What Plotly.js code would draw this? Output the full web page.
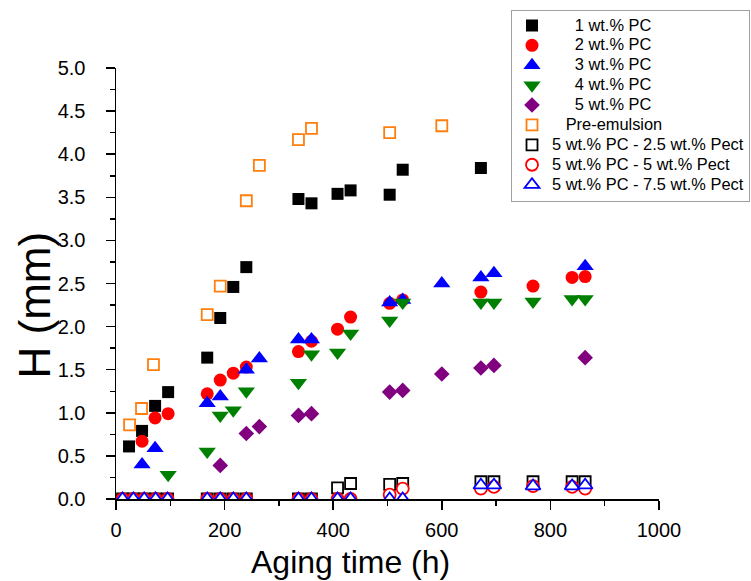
<!DOCTYPE html>
<html>
<head>
<meta charset="utf-8">
<script src="https://cdn.plot.ly/plotly-3.0.1.min.js"></script>
<style>html,body{margin:0;padding:0;background:#fff;}#chart{width:751px;height:581px;}</style>
</head>
<body>
<div id="chart"></div>
<script>
// Aging time (h) and creaming height H (mm) per formulation
const t_pc1 = [24, 48, 72, 96, 168, 192, 216, 240, 336, 360, 408, 432, 504, 528, 672];
const h_pc1 = [0.61, 0.79, 1.08, 1.24, 1.64, 2.10, 2.46, 2.69, 3.48, 3.43, 3.54, 3.58, 3.53, 3.82, 3.84];
const t_pc2 = [48, 72, 96, 168, 192, 216, 240, 336, 360, 408, 432, 504, 528, 672, 768, 840, 864];
const h_pc2 = [0.67, 0.94, 0.99, 1.22, 1.38, 1.46, 1.53, 1.71, 1.83, 1.97, 2.11, 2.27, 2.31, 2.40, 2.47, 2.57, 2.58];
const t_pc3 = [48, 72, 168, 192, 240, 264, 336, 360, 504, 528, 600, 672, 696, 864];
const h_pc3 = [0.40, 0.59, 1.11, 1.19, 1.50, 1.63, 1.85, 1.85, 2.28, 2.31, 2.50, 2.57, 2.62, 2.70];
const t_pc4 = [96, 168, 192, 216, 240, 336, 360, 408, 432, 504, 528, 672, 696, 768, 840, 864];
const h_pc4 = [0.28, 0.55, 0.97, 1.03, 1.25, 1.35, 1.68, 1.70, 1.92, 2.07, 2.28, 2.28, 2.28, 2.29, 2.32, 2.32];
const t_pc5 = [72, 192, 240, 264, 336, 360, 504, 528, 600, 672, 696, 864];
const h_pc5 = [0.00, 0.39, 0.76, 0.84, 0.97, 0.99, 1.24, 1.26, 1.45, 1.52, 1.55, 1.64];
const t_pre = [25, 47, 69, 168, 192, 240, 264, 336, 360, 504, 600];
const h_pre = [0.86, 1.05, 1.56, 2.14, 2.47, 3.46, 3.87, 4.17, 4.30, 4.25, 4.33];
const t_pect = [12, 32, 52, 73, 95, 168, 192, 216, 240, 336, 360, 408, 432, 504, 528, 672, 696, 768, 840, 864];
const h_pect25 = [0, 0, 0, 0, 0, 0, 0, 0, 0, 0, 0, 0.13, 0.18, 0.17, 0.18, 0.20, 0.20, 0.20, 0.20, 0.20];
const h_pect5  = [0, 0, 0, 0, 0, 0, 0, 0, 0, 0, 0, 0, 0, 0.05, 0.12, 0.12, 0.14, 0.15, 0.14, 0.12];
const h_pect75 = [0, 0, 0, 0, 0, 0, 0, 0, 0, 0, 0, 0, 0, 0, 0, 0.16, 0.16, 0.15, 0.15, 0.16];

const labels = [
  "\u00a0\u00a0\u00a0\u00a0\u00a01 wt.% PC",
  "\u00a0\u00a0\u00a0\u00a0\u00a02 wt.% PC",
  "\u00a0\u00a0\u00a0\u00a0\u00a03 wt.% PC",
  "\u00a0\u00a0\u00a0\u00a0\u00a04 wt.% PC",
  "\u00a0\u00a0\u00a0\u00a0\u00a05 wt.% PC",
  "\u00a0\u00a0\u00a0Pre-emulsion",
  "5 wt.% PC - 2.5 wt.% Pect",
  "5 wt.% PC - 5 wt.% Pect",
  "5 wt.% PC - 7.5 wt.% Pect"
];
const names = labels.map(s => '<span style="font-size:16.4px">' + s + '</span>');

function filled(x, y, name, sym, color, size) {
  return {x: x, y: y, name: name, type: 'scatter', mode: 'markers',
    marker: {symbol: sym, color: color, size: size, line: {width: 0}}};
}
function hollow(x, y, name, sym, color, size) {
  return {x: x, y: y, name: name, type: 'scatter', mode: 'markers',
    marker: {symbol: sym, color: '#ffffff', size: size, line: {width: 1.8, color: color}}};
}

const data = [
  filled(t_pc1, h_pc1, names[0], 'square', '#000000', 12),
  filled(t_pc2, h_pc2, names[1], 'circle', '#ff0000', 13),
  filled(t_pc3, h_pc3, names[2], 'triangle-up', '#0000ff', 15),
  filled(t_pc4, h_pc4, names[3], 'triangle-down', '#008000', 15),
  filled(t_pc5, h_pc5, names[4], 'diamond', '#800080', 12),
  hollow(t_pre, h_pre, names[5], 'square', '#ff7f0e', 11),
  hollow(t_pect, h_pect25, names[6], 'square', '#000000', 11),
  hollow(t_pect, h_pect5, names[7], 'circle', '#ff0000', 12),
  hollow(t_pect, h_pect75, names[8], 'triangle-up', '#0000ff', 13)
];

const font = 'Liberation Sans, Arial, sans-serif';
const layout = {
  width: 751, height: 581,
  margin: {l: 116, r: 92, t: 68, b: 82, autoexpand: false},
  paper_bgcolor: '#ffffff', plot_bgcolor: '#ffffff',
  font: {family: font, color: '#000000'},
  showlegend: true,
  legend: {
    x: (750 - 116) / 543, y: (499.5 - 10) / 431, xanchor: 'right', yanchor: 'top',
    bgcolor: '#ffffff', bordercolor: '#a0a0a0', borderwidth: 1,
    font: {family: font, size: 13, color: '#000000'},
    tracegroupgap: 0
  },
  xaxis: {
    range: [0, 1000], showgrid: false, zeroline: false,
    showline: true, linecolor: '#000000', linewidth: 1.5, mirror: false,
    ticks: 'outside', ticklen: 9, tickwidth: 1.5, tickcolor: '#000000',
    dtick: 200, tick0: 0,
    tickfont: {family: font, size: 20, color: '#000000'},
    ticklabelstandoff: 3,
    minor: {dtick: 100, ticks: 'outside', ticklen: 5, tickwidth: 1.5, tickcolor: '#000000', showgrid: false}
  },
  yaxis: {
    range: [0, 5], showgrid: false, zeroline: false,
    showline: true, linecolor: '#000000', linewidth: 1.5, mirror: false,
    ticks: 'outside', ticklen: 9, tickwidth: 1.5, tickcolor: '#000000',
    dtick: 0.5, tick0: 0, tickformat: '.1f',
    tickfont: {family: font, size: 20, color: '#000000'},
    ticklabelstandoff: 16,
    minor: {dtick: 0.25, ticks: 'outside', ticklen: 5, tickwidth: 1.5, tickcolor: '#000000', showgrid: false}
  },
  annotations: [
    {text: 'Aging time (h)', xref: 'paper', yref: 'paper',
     x: (350 - 116) / 543, y: -(562 - 499.5) / 431,
     xanchor: 'center', yanchor: 'middle', showarrow: false,
     font: {family: font, size: 32, color: '#000000'}},
    {text: 'H (mm)', xref: 'paper', yref: 'paper',
     x: (34 - 116) / 543, y: (499.5 - 306) / 431,
     xanchor: 'center', yanchor: 'middle', showarrow: false, textangle: -90,
     font: {family: font, size: 44, color: '#000000'}}
  ]
};

Plotly.newPlot('chart', data, layout, {displayModeBar: false, staticPlot: true});
</script>
</body>
</html>
